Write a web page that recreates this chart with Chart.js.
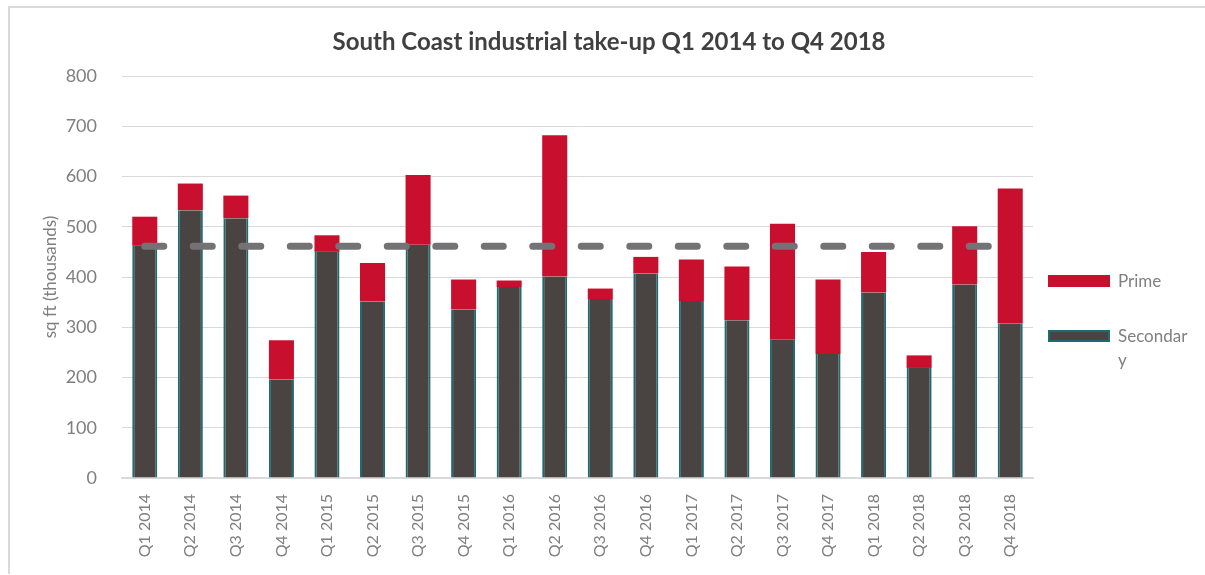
<!DOCTYPE html>
<html>
<head>
<meta charset="utf-8">
<script src="https://cdn.jsdelivr.net/npm/chart.js@4"></script>
<style>
  body { margin: 0; background: #fff; font-family: Lato, sans-serif; }
  #wrap { position: absolute; left: 0; top: 0; width: 1205px; height: 575px; }
  .frame-top { position: absolute; left: 8px; top: 6px; width: 1197px; height: 2px; background: #d9d9d9; }
  .frame-left { position: absolute; left: 8px; top: 6px; width: 2px; height: 568px; background: #d9d9d9; }
  #legend { position: absolute; left: 1048px; top: 270px; color: #7f7f7f; font-size: 17px; }
  .item { position: absolute; left: 0; display: flex; align-items: flex-start; white-space: nowrap; }
  .swatch { width: 62px; height: 12px; box-sizing: border-box; margin-top: 5px; margin-right: 8px; }
  .label { line-height: 24px; margin-top: -1px; }
</style>
</head>
<body>
<div id="wrap">
  <canvas id="chart" width="1205" height="575"></canvas>
</div>
<div class="frame-top"></div>
<div class="frame-left"></div>
<div id="legend"></div>
<script>
// quarters on the x axis
const quarters = [
  'Q1 2014', 'Q2 2014', 'Q3 2014', 'Q4 2014',
  'Q1 2015', 'Q2 2015', 'Q3 2015', 'Q4 2015',
  'Q1 2016', 'Q2 2016', 'Q3 2016', 'Q4 2016',
  'Q1 2017', 'Q2 2017', 'Q3 2017', 'Q4 2017',
  'Q1 2018', 'Q2 2018', 'Q3 2018', 'Q4 2018',
];

// take-up, sq ft (thousands)
const secondary = [462, 533, 517, 196, 450, 351, 464, 336, 380, 401, 356, 407, 352, 314, 275, 247, 369, 219, 385, 308];
const prime = [58, 53, 45, 78, 33, 77, 139, 59, 13, 281, 21, 33, 83, 107, 231, 148, 81, 25, 116, 268];
const average = [461, 461, 461, 461, 461, 461, 461, 461, 461, 461, 461, 461, 461, 461, 461, 461, 461, 461, 461, 461];

const yTicks = [0, 100, 200, 300, 400, 500, 600, 700, 800];

const GREY = '#7f7f7f';
const SECONDARY_FILL = '#494441';
const SECONDARY_EDGE = '#1d6b74';
const PRIME_FILL = '#c8102e';

const datasets = [
  {
    label: 'Secondary',
    data: secondary,
    backgroundColor: SECONDARY_FILL,
    borderColor: SECONDARY_EDGE,
    borderWidth: { left: 2, right: 2, top: 0, bottom: 0 },
    borderSkipped: false,
    barPercentage: 0.55,
    categoryPercentage: 1,
    stack: 'take-up',
    order: 2,
  },
  {
    label: 'Prime',
    data: prime,
    backgroundColor: PRIME_FILL,
    borderWidth: 0,
    barPercentage: 0.55,
    categoryPercentage: 1,
    stack: 'take-up',
    order: 2,
  },
  {
    type: 'line',
    label: 'Average',
    data: average,
    borderColor: '#737376',
    borderWidth: 7,
    borderDash: [19, 29.5],
    borderCapStyle: 'round',
    pointRadius: 0,
    fill: false,
    stack: 'avg',
    order: 1,
  },
];

new Chart(document.getElementById('chart'), {
  type: 'bar',
  data: { labels: quarters, datasets },
  options: {
    responsive: false,
    animation: false,
    layout: { padding: { left: 36, right: 23, top: 0, bottom: 0 } },
    plugins: {
      legend: { display: false },
      tooltip: { enabled: false },
      title: {
        display: true,
        text: 'South Coast industrial take-up Q1 2014 to Q4 2018',
        color: '#404040',
        font: { family: 'Lato', size: 24, weight: 'bold' },
        padding: { top: 27.6, bottom: 19.6 },
      },
    },
    scales: {
      x: {
        stacked: true,
        grid: { display: false },
        border: { color: '#d9d9d9', width: 2 },
        ticks: {
          color: GREY,
          font: { family: 'Lato', size: 16 },
          minRotation: 90,
          maxRotation: 90,
          padding: 8,
          autoSkip: false,
        },
        afterFit: (scale) => { scale.height = 97; },
      },
      y: {
        stacked: true,
        min: 0,
        max: 800,
        afterBuildTicks: (scale) => { scale.ticks = yTicks.map(v => ({ value: v })); },
        grid: { color: '#d9d9d9', lineWidth: 1, drawTicks: false },
        border: { display: false },
        ticks: {
          color: GREY,
          font: { family: 'Lato', size: 18 },
          padding: 25,
        },
        title: {
          display: true,
          text: 'sq ft (thousands)',
          color: GREY,
          font: { family: 'Lato', size: 17 },
          padding: { top: 4, bottom: 0 },
        },
        afterFit: (scale) => { scale.width = 86; },
      },
      // empty right-hand box that keeps room for the legend
      legendSpace: {
        position: 'right',
        min: 0,
        max: 800,
        display: true,
        grid: { display: false },
        border: { display: false },
        ticks: { display: false },
        afterFit: (scale) => { scale.width = 149; },
      },
    },
  },
});

// legend on the right, built from the bar datasets (Prime first, as in the original)
const legend = document.getElementById('legend');
[datasets[1], datasets[0]].forEach((ds, i) => {
  const item = document.createElement('div');
  item.className = 'item';
  item.style.top = (i * 55) + 'px';
  const sw = document.createElement('div');
  sw.className = 'swatch';
  sw.style.background = ds.backgroundColor;
  if (ds.borderColor) sw.style.border = '2px solid ' + ds.borderColor;
  const text = document.createElement('div');
  text.className = 'label';
  // the original wraps the long name onto a second line
  text.innerHTML = ds.label === 'Secondary' ? 'Secondar<br>y' : ds.label;
  item.appendChild(sw);
  item.appendChild(text);
  legend.appendChild(item);
});
</script>
</body>
</html>
